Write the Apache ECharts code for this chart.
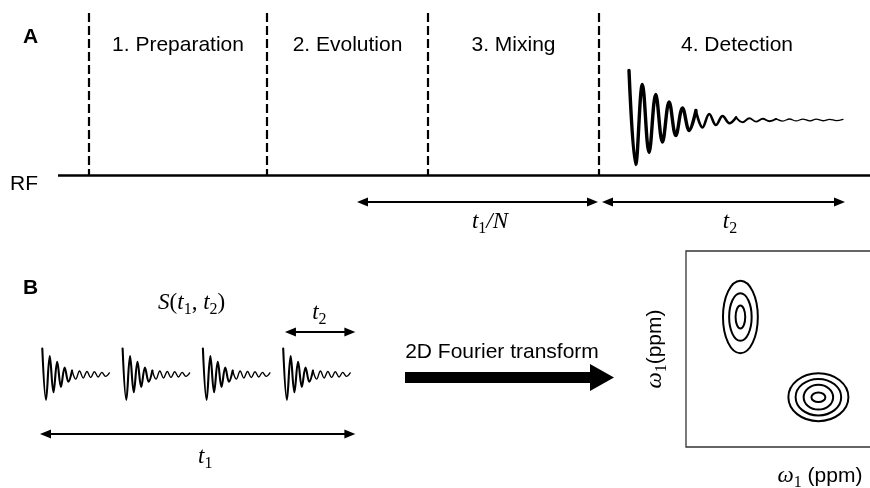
<!DOCTYPE html>
<html>
<head>
<meta charset="utf-8">
<script src="https://cdn.jsdelivr.net/npm/echarts@6/dist/echarts.min.js"></script>
<style>
html, body { margin: 0; padding: 0; background: #fff; }
#chart { width: 870px; height: 488px; }
</style>
</head>
<body>
<div id="chart"></div>
<script>
// ---- panel A : pulse sequence (time in arbitrary units) ----
var phaseNames = ['1. Preparation', '2. Evolution', '3. Mixing', '4. Detection'];
var phaseStarts = [0, 17.8, 33.9, 51.0];
var phaseEnd = 78.6;
var spanT1N = [27.35, 50.35];
var spanT2 = [51.85, 75.05];
var tLabelsA = ['{i|t}{s|1}{i|/N}', '{i|t}{s|2}'];
var tLabelsAX = [40.1, 64.1];
// extrema of the detected FID (relative amplitude)
var fidA = [0.99, -0.89, 0.71, -0.65, 0.51, -0.44, 0.36, -0.31, 0.24, -0.21, 0.19,
  -0.15, 0.12, -0.1, 0.08, -0.065, 0.052, -0.045, 0.036, -0.032, 0.026, -0.024,
  0.022, -0.021, 0.02, -0.019, 0.018, -0.017, 0.016, -0.015, 0.014, -0.013, 0.012];

// ---- panel B : series of FIDs S(t1,t2) ----
var fidB = [0.96, -0.94, 0.68, -0.66, 0.47, -0.46, 0.26, -0.27, 0.15, -0.17,
  0.13, -0.13, 0.11, -0.11, 0.1, -0.09, 0.08, -0.07, 0.06];
var fidSlots = [0, 1, 2, 3];
var spanBt1 = [0.04, 3.83];
var spanBt2 = [3.09, 3.83];

// ---- 2D spectrum : contour peaks (ppm) ----
var peakCenters = [[2.03, 6.63], [4.94, 2.54]];
var ringRx = [[0.65, 0.42, 0.18], [1.12, 0.85, 0.55, 0.26]];
var ringRy = [[1.85, 1.21, 0.59], [1.22, 0.93, 0.63, 0.245]];

var ink = '#000';
var sans = '"Liberation Sans", Arial, sans-serif';
var serif = '"Liberation Serif", "Times New Roman", serif';
var rich = {
    i: {fontFamily: serif, fontStyle: 'italic', fontSize: 23, lineHeight: 30, color: ink},
    n: {fontFamily: serif, fontSize: 23, lineHeight: 30, color: ink},
    s: {fontFamily: serif, fontSize: 16, lineHeight: 16, verticalAlign: 'bottom', color: ink},
    p: {fontFamily: sans, fontSize: 21, lineHeight: 30, color: ink}
};

var chart = echarts.init(document.getElementById('chart'));

function arrow(x1, x2, y) {
    return [
        {coord: [x1, y], symbol: 'triangle', symbolSize: [9, 11]},
        {coord: [x2, y], symbol: 'triangle', symbolSize: [9, 11]}
    ];
}

// FID drawn in pieces so the stroke gets thinner as it decays
function fidSeries(values, cuts, widths, axis) {
    var out = [];
    for (var k = 0; k < widths.length; k++) {
        var a = cuts[k], b = cuts[k + 1];
        out.push({
            type: 'line', xAxisIndex: axis, yAxisIndex: axis,
            data: values.map(function (v, i) { return (i >= a && i <= b) ? v : '-'; }),
            smooth: 0.38, showSymbol: false, silent: true,
            lineStyle: {color: ink, width: widths[k], cap: 'round', join: 'round'}
        });
    }
    return out;
}

var mathLabel = {
    show: true, position: 'inside', color: ink,
    formatter: function (p) { return p.name; },
    rich: rich
};

var grids = [
    {left: 58, top: 13, width: 812, height: 216},          // A
    {left: 629, top: 70, width: 214, height: 100},         // FID in A
    {left: 38.3, top: 293.5, width: 325.2, height: 175.5}  // B
];
fidSlots.forEach(function (s) {
    grids.push({left: 42.3 + s * 80.3, top: 347.5, width: 67, height: 54});
});
grids.push({left: 686, top: 251, width: 268, height: 196,
    show: true, borderColor: '#333', borderWidth: 1.3});
grids.forEach(function (g) { g.outerBoundsMode = 'none'; });

var xAxes = [
    {gridIndex: 0, type: 'value', min: -3.1, max: 78.1, show: false},
    {gridIndex: 1, type: 'category', boundaryGap: false, data: fidA.map(function (v, i) { return i; }), show: false},
    {gridIndex: 2, type: 'value', min: -0.05, max: 4, show: false}
];
var yAxes = [
    {gridIndex: 0, type: 'value', min: -2, max: 2, show: false},
    {gridIndex: 1, type: 'value', min: -1, max: 1, show: false},
    {gridIndex: 2, type: 'value', min: -3.5, max: 3, show: false}
];
fidSlots.forEach(function (s, k) {
    xAxes.push({gridIndex: 3 + k, type: 'category', boundaryGap: false,
        data: fidB.map(function (v, i) { return i; }), show: false});
    yAxes.push({gridIndex: 3 + k, type: 'value', min: -1, max: 1, show: false});
});
var hiddenAxis = {axisLine: {show: false}, axisTick: {show: false},
    axisLabel: {show: false}, splitLine: {show: false}};
xAxes.push(Object.assign({gridIndex: 7, type: 'value', min: 0, max: 10,
    name: '{i|ω}{s|1}{p| (ppm)}', nameLocation: 'middle', nameGap: 14,
    nameTextStyle: {rich: rich}}, hiddenAxis));
yAxes.push(Object.assign({gridIndex: 7, type: 'value', min: 0, max: 10,
    name: '{i|ω}{s|1}{p|(ppm)}', nameLocation: 'middle', nameGap: 16, nameRotate: 90,
    nameTextStyle: {rich: rich}}, hiddenAxis));

var series = [
    {
        name: 'phases', type: 'scatter', xAxisIndex: 0, yAxisIndex: 0,
        symbolSize: 0, silent: true, itemStyle: {opacity: 1},
        data: phaseNames.map(function (n, i) {
            var end = i + 1 < phaseStarts.length ? phaseStarts[i + 1] : phaseEnd;
            return {name: n, value: [(phaseStarts[i] + end) / 2, 1.41]};
        }),
        label: {show: true, position: 'inside', formatter: '{b}',
            fontFamily: sans, fontSize: 21, color: ink},
        markLine: {
            silent: true, symbol: ['none', 'none'], label: {show: false},
            data: phaseStarts.map(function (b) {
                return [{coord: [b, 2], lineStyle: {type: [9, 4], width: 2.2, color: ink}},
                    {coord: [b, -1]}];
            }).concat([{yAxis: -1, lineStyle: {type: 'solid', width: 2.5, color: ink}}])
        }
    },
    {
        name: 'timesA', type: 'scatter', xAxisIndex: 0, yAxisIndex: 0,
        symbolSize: 0, silent: true, itemStyle: {opacity: 1},
        data: tLabelsA.map(function (t, i) { return {name: t, value: [tLabelsAX[i], -1.87]}; }),
        label: mathLabel,
        markLine: {
            silent: true, symbol: ['none', 'none'], label: {show: false},
            lineStyle: {type: 'solid', width: 2, color: ink},
            data: [arrow(spanT1N[0], spanT1N[1], -1.5), arrow(spanT2[0], spanT2[1], -1.5)]
        }
    },
    {
        name: 'timesB', type: 'scatter', xAxisIndex: 2, yAxisIndex: 2,
        symbolSize: 0, silent: true, itemStyle: {opacity: 1},
        data: [
            {name: '{i|S}{n|(}{i|t}{s|1}{n|, }{i|t}{s|2}{n|)}', value: [1.86, 2.65]},
            {name: '{i|t}{s|2}', value: [3.45, 2.28]},
            {name: '{i|t}{s|1}', value: [2.03, -3.06]}
        ],
        label: mathLabel,
        markLine: {
            silent: true, symbol: ['none', 'none'], label: {show: false},
            lineStyle: {type: 'solid', width: 2, color: ink},
            data: [arrow(spanBt2[0], spanBt2[1], 1.57), arrow(spanBt1[0], spanBt1[1], -2.2)]
        }
    },
    {
        name: 'spectrum', type: 'custom', xAxisIndex: 7, yAxisIndex: 7, silent: true,
        encode: {x: 0, y: 1},
        data: peakCenters.reduce(function (acc, c, p) {
            ringRx[p].forEach(function (rx, r) { acc.push([c[0], c[1], rx, ringRy[p][r]]); });
            return acc;
        }, []),
        renderItem: function (params, api) {
            var c = api.coord([api.value(0), api.value(1)]);
            var s = api.size([api.value(2), api.value(3)]);
            return {type: 'ellipse', shape: {cx: c[0], cy: c[1], rx: s[0], ry: s[1]},
                style: {fill: 'none', stroke: ink, lineWidth: 2}};
        }
    }
];
series = series.concat(fidSeries(fidA, [0, 10, 16, 22, 32], [3.4, 2.6, 1.9, 1.3], 1));
fidSlots.forEach(function (s, k) {
    series = series.concat(fidSeries(fidB, [0, 8, 18], [2.1, 1.4], 3 + k));
});

var option = {
    animation: false,
    backgroundColor: '#fff',
    grid: grids,
    xAxis: xAxes,
    yAxis: yAxes,
    graphic: [
        {type: 'text', x: 23, y: 37, silent: true,
            style: {text: 'A', font: 'bold 21px ' + sans, fill: ink, verticalAlign: 'middle', textVerticalAlign: 'middle'}},
        {type: 'text', x: 23, y: 288, silent: true,
            style: {text: 'B', font: 'bold 21px ' + sans, fill: ink, verticalAlign: 'middle', textVerticalAlign: 'middle'}},
        {type: 'text', x: 10, y: 184, silent: true,
            style: {text: 'RF', font: '21px ' + sans, fill: ink, verticalAlign: 'middle', textVerticalAlign: 'middle'}},
        {type: 'text', x: 502, y: 352, silent: true,
            style: {text: '2D Fourier transform', font: '21px ' + sans, fill: ink,
                align: 'center', textAlign: 'center', verticalAlign: 'middle', textVerticalAlign: 'middle'}},
        {type: 'polygon', silent: true,
            shape: {points: [[405, 372], [590, 372], [590, 364], [614, 377.5], [590, 391], [590, 383], [405, 383]]},
            style: {fill: ink}}
    ],
    series: series
};

chart.setOption(option);
</script>
</body>
</html>
